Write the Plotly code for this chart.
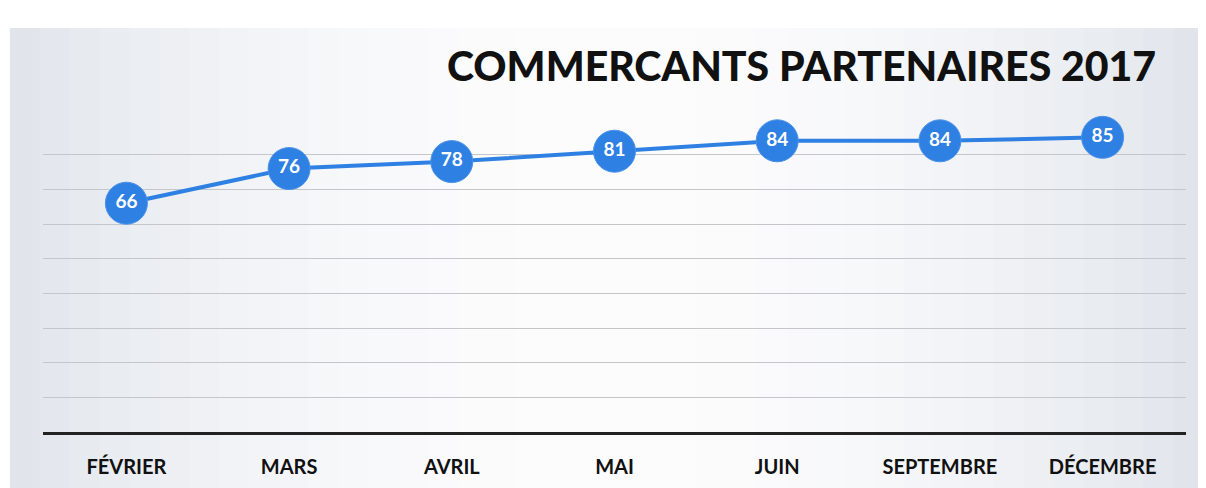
import plotly.graph_objects as go

months = ["FÉVRIER", "MARS", "AVRIL", "MAI", "JUIN", "SEPTEMBRE", "DÉCEMBRE"]
partners = [66, 76, 78, 81, 84, 84, 85]
title_text = "COMMERCANTS PARTENAIRES 2017"

blue = "#2f80e3"

fig = go.Figure()

fig.add_trace(
    go.Scatter(
        x=months,
        y=partners,
        mode="lines+markers+text",
        text=[str(v) for v in partners],
        textposition="middle center",
        textfont=dict(family="Lato", size=19, color="white", weight="bold"),
        line=dict(color=blue, width=4),
        marker=dict(size=42, color=blue, line=dict(color="#4a92ea", width=1)),
        showlegend=False,
        cliponaxis=False,
    )
)

# soft grey-to-white panel behind the chart, built from thin vertical strips
n_strips = 40
x_left, x_right = -0.029, 1.015
edge = (224, 228, 234)
centre = (252, 252, 253)
for i in range(n_strips):
    t = (i + 0.5) / n_strips
    k = min(1.0, abs(t - 0.5) * 2) ** 2
    col = tuple(round(c + (e - c) * k) for c, e in zip(centre, edge))
    x0 = x_left + (x_right - x_left) * i / n_strips
    x1 = x_left + (x_right - x_left) * (i + 1) / n_strips
    fig.add_shape(
        type="rect", xref="paper", yref="paper",
        x0=x0, x1=x1 + 0.001, y0=-0.3, y1=1.295,
        fillcolor="rgb(%d,%d,%d)" % col, line=dict(width=0), layer="below",
    )

fig.add_annotation(
    text=title_text,
    xref="paper", yref="paper",
    x=0.9755, y=1.176,
    xanchor="right", yanchor="middle",
    showarrow=False,
    font=dict(family="Lato", size=41, color="#111111", weight=900),
)

fig.update_layout(
    width=1206,
    height=488,
    margin=dict(l=35, r=28, t=112, b=64),
    paper_bgcolor="white",
    plot_bgcolor="rgba(0,0,0,0)",
    font=dict(family="Lato", color="#222222"),
    xaxis=dict(
        showgrid=False,
        showline=True,
        linecolor="#222222",
        linewidth=3,
        ticks="outside",
        ticklen=15,
        tickcolor="rgba(0,0,0,0)",
        tickfont=dict(size=20, color="#111111", weight="bold"),
        zeroline=False,
        automargin=False,
    ),
    yaxis=dict(
        range=[0, 90],
        dtick=10,
        showgrid=True,
        gridcolor="#c4c6c9",
        gridwidth=1,
        showticklabels=False,
        zeroline=False,
        showline=False,
        automargin=False,
    ),
)

fig.write_html("out.html")
